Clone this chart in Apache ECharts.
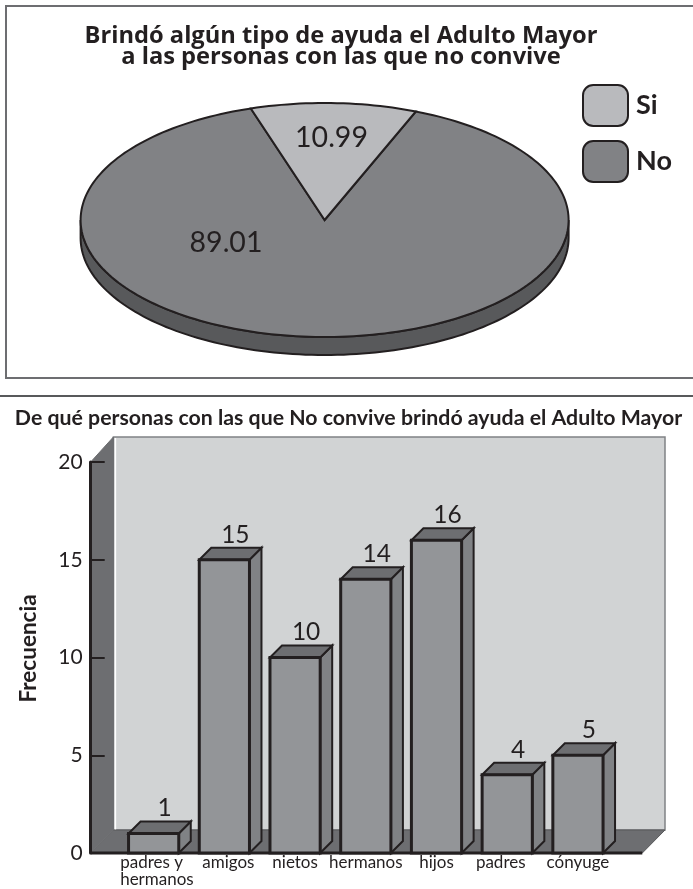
<!DOCTYPE html>
<html>
<head>
<meta charset="utf-8">
<style>html,body{margin:0;padding:0;background:#fff}#chart{width:693px;height:889px}</style>
<script src="https://cdn.jsdelivr.net/npm/echarts@6/dist/echarts.min.js"></script>
</head>
<body>
<div id="chart"></div>
<script>
// Ayuda brindada a personas con las que no convive
const pieNames = ['Si', 'No'];
const pieValues = [10.99, 89.01];

// Frecuencia por parentesco
const categories = ['padres y\nhermanos', 'amigos', 'nietos', 'hermanos', 'hijos', 'padres', 'cónyuge'];
const frequencies = [1, 15, 10, 14, 16, 4, 5];
const yTicks = { min: 0, max: 20, interval: 5 };

const INK = '#231f20';
const FONT = 'Lato, "Open Sans", sans-serif';

// Geometry of the tilted pie
const PIE = { cx: 324.6, cy: 220, rx: 244, ry: 117, depth: 18, startDeg: -17.6 };
const pieTotal = pieValues.reduce((a, b) => a + b, 0);
const RAD = Math.PI / 180;

function ellipsePoint(deg, dy) {
  return [PIE.cx + PIE.rx * Math.sin(deg * RAD), PIE.cy + (dy || 0) - PIE.ry * Math.cos(deg * RAD)];
}
function arc(a0, a1, dy) {
  const pts = [];
  const steps = Math.max(2, Math.ceil(Math.abs(a1 - a0) / 1.5));
  for (let i = 0; i <= steps; i++) pts.push(ellipsePoint(a0 + (a1 - a0) * i / steps, dy));
  return pts;
}
function sliceAngles(index) {
  let before = 0;
  for (let i = 0; i < index; i++) before += pieValues[i];
  return [PIE.startDeg + before / pieTotal * 360, PIE.startDeg + (before + pieValues[index]) / pieTotal * 360];
}

function renderPieEdge() {
  const pts = arc(90, 270, 0).concat(arc(270, 90, PIE.depth));
  return { type: 'polygon', shape: { points: pts }, style: { fill: '#58595b', stroke: INK, lineWidth: 2 } };
}

function sliceRenderer(index, labelX, labelY) {
  return function (params, api) {
    const value = api.value(0);
    const [a0, a1] = sliceAngles(index);
    const pts = [[PIE.cx, PIE.cy]].concat(arc(a0, a1, 0));
    return {
      type: 'group',
      children: [
        { type: 'polygon', shape: { points: pts }, style: { fill: api.visual('color'), stroke: INK, lineWidth: 2, lineJoin: 'miter' } },
        { type: 'text', z2: 10, style: { text: value.toFixed(2), x: labelX, y: labelY, textAlign: 'center', textVerticalAlign: 'middle', font: '28.5px ' + FONT, fill: INK } }
      ]
    };
  };
}

// Extended 3D box around the plot area
const WALL = { padLeft: 27.6, padRight: 29, dx: 22.7, dy: 23 };
const BAR_DEPTH = 12;

function renderScene(params, api) {
  const cs = params.coordSys;
  const y0 = api.coord([0, 0])[1];
  const yTop = api.coord([0, yTicks.max])[1];
  const xL = cs.x - WALL.padLeft, xR = cs.x + cs.width + WALL.padRight;
  const bx = WALL.dx, by = WALL.dy;
  return {
    type: 'group',
    children: [
      { type: 'polygon', shape: { points: [[xL + bx, yTop - 25], [xR + bx, yTop - 25], [xR + bx, y0 - by], [xL + bx, y0 - by]] }, style: { fill: '#d1d3d4', stroke: '#808285', lineWidth: 1.5 } },
      { type: 'line', shape: { x1: xL + bx + 2, y1: yTop - 24, x2: xL + bx + 2, y2: y0 - by }, style: { stroke: '#ffffff', lineWidth: 1.5 } },
      { type: 'polygon', shape: { points: [[xL, y0], [xR, y0], [xR + bx, y0 - by], [xL + bx, y0 - by]] }, style: { fill: '#6d6e71', stroke: '#58595b', lineWidth: 1 } },
      { type: 'polygon', shape: { points: [[xL, y0], [xL, yTop], [xL + bx, yTop - 25], [xL + bx, y0 - by]] }, style: { fill: '#6d6e71', stroke: '#6d6e71', lineWidth: 1 } },
      { type: 'line', shape: { x1: xL, y1: y0, x2: xR, y2: y0 }, style: { stroke: INK, lineWidth: 3 } }
    ]
  };
}

function renderBar(params, api) {
  const cat = api.value(0), val = api.value(1);
  const top = api.coord([cat, val]), base = api.coord([cat, 0]);
  const w = api.size([1, 0])[0] * 0.71;
  const l = top[0] - w / 2, r = top[0] + w / 2, t = top[1], b = base[1];
  const d = BAR_DEPTH;
  const edge = { stroke: INK, lineWidth: 2, lineJoin: 'miter' };
  return {
    type: 'group',
    children: [
      { type: 'polygon', shape: { points: [[r, t], [r + d, t - d], [r + d, b - d], [r, b]] }, style: Object.assign({ fill: '#808285' }, edge) },
      { type: 'polygon', shape: { points: [[l, t], [l + d, t - d], [r + d, t - d], [r, t]] }, style: Object.assign({ fill: '#6d6e71' }, edge) },
      { type: 'rect', shape: { x: l, y: t, width: w, height: b - t }, style: { fill: '#939598', stroke: INK, lineWidth: 3 } },
      { type: 'text', style: { text: String(val), x: top[0] + 11, y: t - 25, textAlign: 'center', textVerticalAlign: 'middle', font: '24.5px ' + FONT, fill: INK } }
    ]
  };
}

const chart = echarts.init(document.getElementById('chart'), null, { renderer: 'canvas' });
chart.setOption({
  animation: false,
  backgroundColor: '#ffffff',
  textStyle: { fontFamily: FONT, color: INK },
  title: [
    {
      text: 'Brindó algún tipo de ayuda el Adulto Mayor\na las personas con las que no convive',
      left: 336, top: 21, textAlign: 'center',
      textStyle: { fontFamily: '"Open Sans", sans-serif', fontSize: 23.7, fontWeight: 'bold', color: INK, lineHeight: 21 }
    },
    {
      text: 'De qué personas con las que No convive brindó ayuda el Adulto Mayor',
      left: 343.5, top: 402, textAlign: 'center',
      textStyle: { fontFamily: FONT, fontSize: 21.3, fontWeight: 'bold', color: INK, lineHeight: 22 }
    }
  ],
  legend: {
    data: pieNames, orient: 'vertical', left: 577, top: 79,
    itemWidth: 45, itemHeight: 41, itemGap: 13, icon: 'roundRect',
    itemStyle: { borderColor: INK, borderWidth: 2 },
    textStyle: { fontFamily: FONT, fontSize: 27, fontWeight: 'bold', color: INK, padding: [0, 0, 0, 3] },
    selectedMode: false
  },
  grid: { left: 118.3, width: 495, top: 462, height: 391 },
  xAxis: {
    type: 'category', data: categories, z: 6,
    axisLine: { show: false }, axisTick: { show: false },
    axisLabel: {
      interval: 0, margin: 1, color: INK, fontFamily: FONT, fontSize: 17, lineHeight: 17,
      formatter: function (v) {
        if (v.indexOf('\n') >= 0) return v.split('\n').map(s => '{first|' + s + '}').join('\n');
        if (v === 'padres') return '{padres|' + v + '}';
        if (v === 'amigos') return '{amigos|' + v + '}';
        return v;
      },
      rich: {
        first: { width: 74, align: 'left', padding: [0, 0, 0, 7], fontFamily: FONT, fontSize: 17, lineHeight: 17, color: INK },
        padres: { padding: [0, 13, 0, 0], fontFamily: FONT, fontSize: 17, lineHeight: 17, color: INK },
        amigos: { padding: [0, 0, 0, 8], fontFamily: FONT, fontSize: 17, lineHeight: 17, color: INK }
      }
    }
  },
  yAxis: {
    type: 'value', min: yTicks.min, max: yTicks.max, interval: yTicks.interval, offset: 27.6, z: 6,
    name: 'Frecuencia', nameLocation: 'middle', nameGap: 50, nameRotate: 90,
    nameTextStyle: { fontFamily: FONT, fontSize: 22.5, fontWeight: 'bold', color: INK, padding: [0, 0, 0, 18] },
    axisLine: { show: true, lineStyle: { color: INK, width: 3 } },
    axisTick: { show: true, inside: true, length: 14, lineStyle: { color: INK, width: 2 } },
    axisLabel: { margin: 8, color: INK, fontFamily: FONT, fontSize: 21 },
    splitLine: { show: false }
  },
  series: [
    { type: 'custom', name: 'borde', coordinateSystem: 'none', silent: true, z: 2, renderItem: renderPieEdge, data: [[0]] },
    { type: 'custom', name: pieNames[1], coordinateSystem: 'none', silent: true, z: 3, itemStyle: { color: '#818285' },
      renderItem: sliceRenderer(1, 226, 243), data: [[pieValues[1]]] },
    { type: 'custom', name: pieNames[0], coordinateSystem: 'none', silent: true, z: 3, itemStyle: { color: '#b9babd' },
      renderItem: sliceRenderer(0, 331.5, 138), data: [[pieValues[0]]] },
    { type: 'custom', name: 'escena', coordinateSystem: 'cartesian2d', silent: true, z: 1, renderItem: renderScene, data: [[0, 0]], clip: false },
    { type: 'custom', name: 'Frecuencia', coordinateSystem: 'cartesian2d', silent: true, z: 3, renderItem: renderBar, clip: false,
      encode: { x: 0, y: 1 }, data: frequencies.map((v, i) => [i, v]) }
  ],
  graphic: [
    { type: 'rect', z: -1, shape: { x: 6, y: 6, width: 700, height: 372 }, style: { fill: 'none', stroke: '#6d6e71', lineWidth: 2 } },
    { type: 'line', z: -1, shape: { x1: 0, y1: 396, x2: 693, y2: 396 }, style: { stroke: '#58595b', lineWidth: 2 } }
  ]
});
</script>
</body>
</html>
